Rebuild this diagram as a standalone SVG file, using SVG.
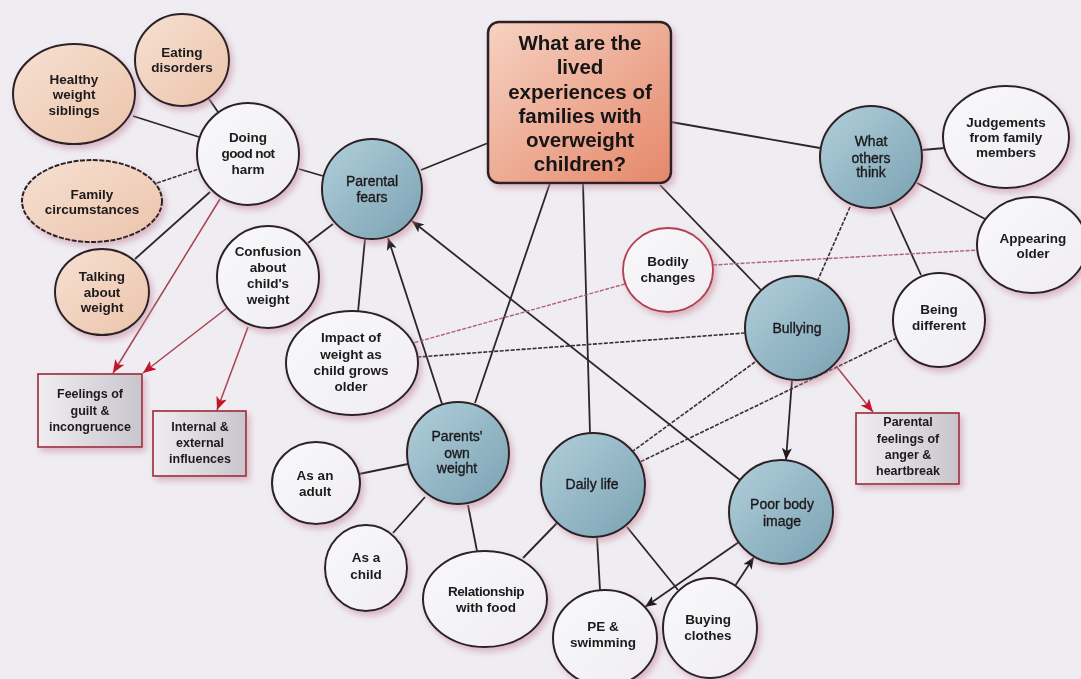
<svg xmlns="http://www.w3.org/2000/svg" width="1081" height="679" viewBox="0 0 1081 679">
  <defs>
    <linearGradient id="gBlue" x1="0" y1="0" x2="1" y2="1">
      <stop offset="0" stop-color="#b2cfdb"/>
      <stop offset="1" stop-color="#7aa2b2"/>
    </linearGradient>
    <linearGradient id="gPeach" x1="0" y1="0" x2="1" y2="1">
      <stop offset="0" stop-color="#f6e0d2"/>
      <stop offset="1" stop-color="#ecc4ab"/>
    </linearGradient>
    <linearGradient id="gWhite" x1="0" y1="0" x2="1" y2="1">
      <stop offset="0" stop-color="#f9f8fa"/>
      <stop offset="1" stop-color="#efedf1"/>
    </linearGradient>
    <linearGradient id="gMain" x1="0" y1="0" x2="1" y2="1">
      <stop offset="0" stop-color="#f6d2c2"/>
      <stop offset="1" stop-color="#e5876a"/>
    </linearGradient>
    <linearGradient id="gBox" x1="0" y1="0" x2="1" y2="0">
      <stop offset="0" stop-color="#efedf1"/>
      <stop offset="1" stop-color="#c8c6cc"/>
    </linearGradient>
    <filter id="shadow" x="-20%" y="-20%" width="150%" height="150%">
      <feDropShadow dx="3" dy="4" stdDeviation="3" flood-color="#c8899c" flood-opacity="0.55"/>
    </filter>
    <marker id="arrowDark" viewBox="0 0 12 10" refX="12" refY="5" markerWidth="12" markerHeight="10" markerUnits="userSpaceOnUse" orient="auto">
      <path d="M0,0 L12,5 L0,10 L3,5 Z" fill="#1e1a1c"/>
    </marker>
    <marker id="arrowRed" viewBox="0 0 12 10" refX="12" refY="5" markerWidth="13" markerHeight="11" markerUnits="userSpaceOnUse" orient="auto">
      <path d="M0,0 L12,5 L0,10 L3,5 Z" fill="#c3142a"/>
    </marker>
  </defs>
  <style>
    .node { stroke: #2a2326; stroke-width: 2; }
    .blue { fill: url(#gBlue); }
    .peach { fill: url(#gPeach); }
    .white { fill: url(#gWhite); }
    .box { fill: url(#gBox); stroke: #9b2a38; stroke-width: 1.6; }
    .main { fill: url(#gMain); stroke: #2a2326; stroke-width: 2.5; }
    .lbl { font-family: "Liberation Sans", Arial, sans-serif; font-size: 13.5px; font-weight: bold; fill: #1c1a1b; text-anchor: middle; }
    .lblb { font-family: "Liberation Sans", Arial, sans-serif; font-size: 14px; fill: #1c1a1b; stroke: #1c1a1b; stroke-width: 0.35; text-anchor: middle; }
    .lblm { font-family: "Liberation Sans", Arial, sans-serif; font-size: 20.5px; font-weight: bold; fill: #141213; text-anchor: middle; }
    .lbls { font-family: "Liberation Sans", Arial, sans-serif; font-size: 12.5px; font-weight: bold; fill: #1c1a1b; text-anchor: middle; }
    .ln { stroke: #2e2528; stroke-width: 1.8; fill: none; }
    .dash { stroke: #3a2e33; stroke-width: 1.6; stroke-dasharray: 4 1.5; fill: none; }
    .rdash { stroke: #b4606e; stroke-width: 1.4; stroke-dasharray: 4 1.5; fill: none; }
    .red { stroke: #a8424f; stroke-width: 1.5; fill: none; }
  </style>

  <rect width="1081" height="679" fill="#efedf2"/>

  <g id="connectors">
    <!-- central question to themes -->
    <line class="ln" x1="488" y1="143" x2="421" y2="170"/>
    <line class="ln" x1="671" y1="122" x2="820" y2="148"/>
    <line class="ln" x1="550" y1="183" x2="475" y2="403"/>
    <line class="ln" x1="583" y1="183" x2="590" y2="433"/>
    <line class="ln" x1="660" y1="185" x2="761" y2="290"/>
    <!-- parental fears cluster -->
    <line class="ln" x1="299" y1="169" x2="323" y2="176"/>
    <line class="ln" x1="308" y1="243" x2="333" y2="224"/>
    <line class="ln" x1="365" y1="239" x2="358" y2="312"/>
    <line class="ln" x1="442" y1="404" x2="388" y2="238" marker-end="url(#arrowDark)"/>
    <line class="ln" x1="740" y1="480" x2="412" y2="221" marker-end="url(#arrowDark)"/>
    <!-- doing good not harm cluster -->
    <line class="ln" x1="209" y1="99" x2="218" y2="112"/>
    <line class="ln" x1="133" y1="116" x2="199" y2="137"/>
    <line class="dash" x1="157" y1="183" x2="199" y2="169"/>
    <line class="ln" x1="210" y1="192" x2="135" y2="259"/>
    <line class="red" x1="220" y1="199" x2="113" y2="373" marker-end="url(#arrowRed)"/>
    <line class="red" x1="227" y1="308" x2="143" y2="373" marker-end="url(#arrowRed)"/>
    <line class="red" x1="248" y1="327" x2="217" y2="410" marker-end="url(#arrowRed)"/>
    <!-- parents' own weight cluster -->
    <line class="ln" x1="408" y1="464" x2="359" y2="474"/>
    <line class="ln" x1="425" y1="497" x2="393" y2="533"/>
    <line class="ln" x1="468" y1="505" x2="477" y2="551"/>
    <!-- daily life cluster -->
    <line class="ln" x1="557" y1="523" x2="523" y2="558"/>
    <line class="ln" x1="597" y1="537" x2="600" y2="590"/>
    <line class="ln" x1="627" y1="527" x2="678" y2="590"/>
    <line class="ln" x1="739" y1="542" x2="645" y2="607" marker-end="url(#arrowDark)"/>
    <line class="ln" x1="735" y1="586" x2="754" y2="557" marker-end="url(#arrowDark)"/>
    <!-- bullying cluster -->
    <line class="ln" x1="792" y1="380" x2="786" y2="460" marker-end="url(#arrowDark)"/>
    <line class="red" x1="836" y1="366" x2="873" y2="412" marker-end="url(#arrowRed)"/>
    <line class="dash" x1="745" y1="333" x2="418" y2="357"/>
    <line class="dash" x1="755" y1="362" x2="633" y2="451"/>
    <line class="dash" x1="897" y1="338" x2="640" y2="462"/>
    <!-- what others think cluster -->
    <line class="ln" x1="922" y1="150" x2="945" y2="148"/>
    <line class="ln" x1="917" y1="183" x2="987" y2="220"/>
    <line class="ln" x1="890" y1="207" x2="921" y2="275"/>
    <line class="dash" x1="850" y1="207" x2="817" y2="282"/>
    <!-- bodily changes links -->
    <line class="rdash" x1="713" y1="265" x2="979" y2="250"/>
    <line class="rdash" x1="625" y1="284" x2="413" y2="343"/>
  </g>

  <g id="node-main" filter="url(#shadow)">
    <rect class="main" x="488" y="22" width="183" height="161" rx="11"/>
    <text class="lblm" x="580" y="50">What are the<tspan x="580" dy="24">lived</tspan><tspan x="580" dy="24.5">experiences of</tspan><tspan x="580" dy="24">families with</tspan><tspan x="580" dy="24.5">overweight</tspan><tspan x="580" dy="24">children?</tspan></text>
  </g>

  <g id="node-eating-disorders" filter="url(#shadow)">
    <ellipse class="node peach" cx="182" cy="60" rx="47" ry="46"/>
    <text class="lbl" x="182" y="57">Eating<tspan x="182" dy="15">disorders</tspan></text>
  </g>
  <g id="node-healthy-siblings" filter="url(#shadow)">
    <ellipse class="node peach" cx="74" cy="94" rx="61" ry="50"/>
    <text class="lbl" x="74" y="83.5">Healthy<tspan x="74" dy="15.5">weight</tspan><tspan x="74" dy="15.5">siblings</tspan></text>
  </g>
  <g id="node-family-circumstances" filter="url(#shadow)">
    <ellipse class="node peach" cx="92" cy="201" rx="70" ry="41" stroke-dasharray="5 1.5"/>
    <text class="lbl" x="92" y="199">Family<tspan x="92" dy="15">circumstances</tspan></text>
  </g>
  <g id="node-talking-weight" filter="url(#shadow)">
    <ellipse class="node peach" cx="102" cy="292" rx="47" ry="43"/>
    <text class="lbl" x="102" y="281">Talking<tspan x="102" dy="15.5">about</tspan><tspan x="102" dy="15.5">weight</tspan></text>
  </g>
  <g id="node-doing-good" filter="url(#shadow)">
    <circle class="node white" cx="248" cy="154" r="51"/>
    <text class="lbl" x="248" y="142">Doing<tspan x="248" dy="16" letter-spacing="-0.6">good not</tspan><tspan x="248" dy="15.5">harm</tspan></text>
  </g>
  <g id="node-confusion" filter="url(#shadow)">
    <circle class="node white" cx="268" cy="277" r="51"/>
    <text class="lbl" x="268" y="256">Confusion<tspan x="268" dy="16">about</tspan><tspan x="268" dy="16">child's</tspan><tspan x="268" dy="15.5">weight</tspan></text>
  </g>
  <g id="node-guilt" filter="url(#shadow)">
    <rect class="box" x="38" y="374" width="104" height="73"/>
    <text class="lbls" x="90" y="398">Feelings of<tspan x="90" dy="17">guilt &amp;</tspan><tspan x="90" dy="16">incongruence</tspan></text>
  </g>
  <g id="node-influences" filter="url(#shadow)">
    <rect class="box" x="153" y="411" width="93" height="65"/>
    <text class="lbls" x="200" y="431">Internal &amp;<tspan x="200" dy="16">external</tspan><tspan x="200" dy="16">influences</tspan></text>
  </g>
  <g id="node-parental-fears" filter="url(#shadow)">
    <circle class="node blue" cx="372" cy="189" r="50"/>
    <text class="lblb" x="372" y="186">Parental<tspan x="372" dy="16">fears</tspan></text>
  </g>
  <g id="node-impact" filter="url(#shadow)">
    <ellipse class="node white" cx="352" cy="363" rx="66" ry="52"/>
    <text class="lbl" x="351" y="342">Impact of<tspan x="351" dy="16.5">weight as</tspan><tspan x="351" dy="16.5">child grows</tspan><tspan x="351" dy="15.5">older</tspan></text>
  </g>
  <g id="node-parents-weight" filter="url(#shadow)">
    <circle class="node blue" cx="458" cy="453" r="51"/>
    <text class="lblb" x="457" y="441">Parents'<tspan x="457" dy="16.5">own</tspan><tspan x="457" dy="15.5">weight</tspan></text>
  </g>
  <g id="node-as-adult" filter="url(#shadow)">
    <ellipse class="node white" cx="316" cy="483" rx="44" ry="41"/>
    <text class="lbl" x="315" y="480">As an<tspan x="315" dy="16">adult</tspan></text>
  </g>
  <g id="node-as-child" filter="url(#shadow)">
    <ellipse class="node white" cx="366" cy="568" rx="41" ry="43"/>
    <text class="lbl" x="366" y="562">As a<tspan x="366" dy="17">child</tspan></text>
  </g>
  <g id="node-relationship-food" filter="url(#shadow)">
    <ellipse class="node white" cx="485" cy="599" rx="62" ry="48"/>
    <text class="lbl" x="486" y="596"><tspan letter-spacing="-0.4">Relationship</tspan><tspan x="486" dy="15.5">with food</tspan></text>
  </g>
  <g id="node-daily-life" filter="url(#shadow)">
    <circle class="node blue" cx="593" cy="485" r="52"/>
    <text class="lblb" x="592" y="489">Daily life</text>
  </g>
  <g id="node-pe-swimming" filter="url(#shadow)">
    <ellipse class="node white" cx="605" cy="638" rx="52" ry="48"/>
    <text class="lbl" x="603" y="631">PE &amp;<tspan x="603" dy="16">swimming</tspan></text>
  </g>
  <g id="node-buying-clothes" filter="url(#shadow)">
    <ellipse class="node white" cx="710" cy="628" rx="47" ry="50"/>
    <text class="lbl" x="708" y="624">Buying<tspan x="708" dy="15.5">clothes</tspan></text>
  </g>
  <g id="node-poor-body-image" filter="url(#shadow)">
    <circle class="node blue" cx="781" cy="512" r="52"/>
    <text class="lblb" x="782" y="509">Poor body<tspan x="782" dy="17">image</tspan></text>
  </g>
  <g id="node-bullying" filter="url(#shadow)">
    <circle class="node blue" cx="797" cy="328" r="52"/>
    <text class="lblb" x="797" y="333">Bullying</text>
  </g>
  <g id="node-anger" filter="url(#shadow)">
    <rect class="box" x="856" y="413" width="103" height="71"/>
    <text class="lbls" x="908" y="426">Parental<tspan x="908" dy="17">feelings of</tspan><tspan x="908" dy="16">anger &amp;</tspan><tspan x="908" dy="16">heartbreak</tspan></text>
  </g>
  <g id="node-bodily-changes" filter="url(#shadow)">
    <ellipse class="white" cx="668" cy="270" rx="45" ry="42" stroke="#b3404f" stroke-width="1.8"/>
    <text class="lbl" x="668" y="266">Bodily<tspan x="668" dy="16">changes</tspan></text>
  </g>
  <g id="node-what-others-think" filter="url(#shadow)">
    <circle class="node blue" cx="871" cy="157" r="51"/>
    <text class="lblb" x="871" y="146">What<tspan x="871" dy="16.5">others</tspan><tspan x="871" dy="14.5">think</tspan></text>
  </g>
  <g id="node-judgements" filter="url(#shadow)">
    <ellipse class="node white" cx="1006" cy="137" rx="63" ry="51"/>
    <text class="lbl" x="1006" y="127">Judgements<tspan x="1006" dy="15">from family</tspan><tspan x="1006" dy="15">members</tspan></text>
  </g>
  <g id="node-appearing-older" filter="url(#shadow)">
    <ellipse class="node white" cx="1032" cy="245" rx="55" ry="48"/>
    <text class="lbl" x="1033" y="243">Appearing<tspan x="1033" dy="14.5">older</tspan></text>
  </g>
  <g id="node-being-different" filter="url(#shadow)">
    <ellipse class="node white" cx="939" cy="320" rx="46" ry="47"/>
    <text class="lbl" x="939" y="314">Being<tspan x="939" dy="16">different</tspan></text>
  </g>
</svg>
